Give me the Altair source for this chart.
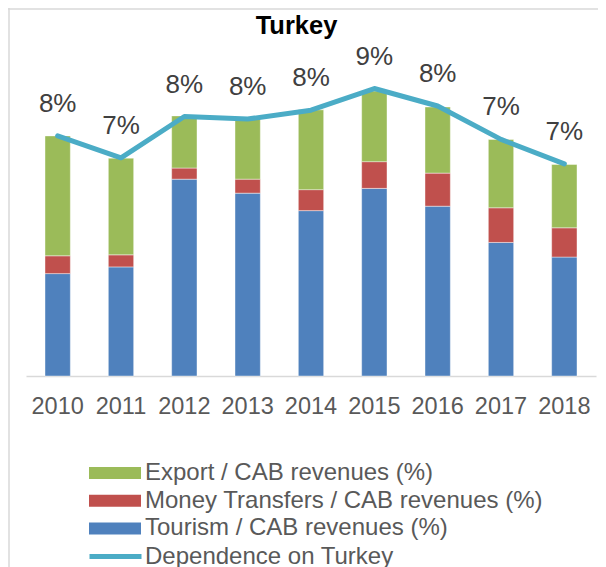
import altair as alt
import pandas as pd

years = ["2010", "2011", "2012", "2013", "2014", "2015", "2016", "2017", "2018"]
tourism = [3.22, 3.43, 6.19, 5.75, 5.20, 5.90, 5.34, 4.20, 3.74]
money_transfers = [0.56, 0.38, 0.35, 0.44, 0.66, 0.84, 1.04, 1.09, 0.92]
export = [3.77, 3.04, 1.64, 1.92, 2.51, 2.22, 2.08, 2.15, 1.99]
dependence = [7.55, 6.86, 8.16, 8.08, 8.36, 9.04, 8.49, 7.44, 6.67]

bar_series = [
    "Export / CAB revenues (%)",
    "Money Transfers / CAB revenues (%)",
    "Tourism / CAB revenues (%)",
]
bar_colors = ["#9BBB59", "#C0504D", "#4F81BD"]
line_series = "Dependence on Turkey"
line_color = "#4BACC6"

rows = []
for i, yr in enumerate(years):
    rows.append({"year": yr, "series": bar_series[2], "value": tourism[i], "order": 1})
    rows.append({"year": yr, "series": bar_series[1], "value": money_transfers[i], "order": 2})
    rows.append({"year": yr, "series": bar_series[0], "value": export[i], "order": 3})
bars_df = pd.DataFrame(rows)
line_df = pd.DataFrame({"year": years, "dep": dependence, "lseries": [line_series] * len(years)})

FONT = "Liberation Sans"
y_scale = alt.Scale(domain=[0, 10], nice=False, zero=True)
x_enc = alt.X(
    "year:N",
    scale=alt.Scale(paddingInner=0.6, paddingOuter=0.3),
    axis=alt.Axis(
        title=None, labelAngle=0, labelFont=FONT, labelFontSize=23.5,
        labelColor="#595959", labelPadding=18, ticks=False, tickSize=0,
        domainColor="#d9d9d9", domainWidth=1.3, grid=False,
    ),
)

rect_path = "M-4.333,-1H4.333V1H-4.333Z"

bar_legend = alt.Legend(
    title=None, orient="none", legendX=77, legendY=403,
    labelFont=FONT, labelFontSize=24, labelColor="#595959",
    symbolType=rect_path, symbolSize=144, symbolStrokeWidth=0, symbolOpacity=1,
    labelOffset=18, rowPadding=3.7, labelLimit=600,
)
line_legend = alt.Legend(
    title=None, orient="none", legendX=61, legendY=470,
    labelFont=FONT, labelFontSize=24, labelColor="#595959",
    symbolType="stroke", symbolSize=2704, symbolStrokeWidth=5, symbolOpacity=1,
    labelOffset=1, labelLimit=600,
)

bars = alt.Chart(bars_df).mark_bar(stroke="white", strokeWidth=0.6, strokeOpacity=0.7).encode(
    x=x_enc,
    y=alt.Y("value:Q", stack="zero", scale=y_scale, axis=None),
    color=alt.Color("series:N", scale=alt.Scale(domain=bar_series, range=bar_colors), legend=bar_legend),
    order=alt.Order("order:Q", sort="ascending"),
)

line = alt.Chart(line_df).mark_line(strokeWidth=5, strokeCap="round", strokeJoin="round").encode(
    x="year:N",
    y=alt.Y("dep:Q", scale=y_scale),
    stroke=alt.Stroke("lseries:N", scale=alt.Scale(domain=[line_series], range=[line_color]),
                      legend=line_legend),
)

labels = alt.Chart(line_df).transform_calculate(
    lab="format(datum.dep / 100, '.0%')"
).mark_text(font=FONT, fontSize=26, color="#404040", baseline="alphabetic", dy=-24).encode(
    x="year:N", y=alt.Y("dep:Q", scale=y_scale), text="lab:N"
)

title = alt.Chart(pd.DataFrame({"t": ["Turkey"]})).mark_text(
    font=FONT, fontSize=25.5, fontWeight="bold", color="#000000", baseline="alphabetic", align="center"
).encode(x=alt.value(270.5), y=alt.value(-24), text="t:N")

frame_left = alt.Chart(pd.DataFrame({"a": [0]})).mark_rule(color="#d9d9d9", strokeWidth=1.5).encode(
    x=alt.value(-17), y=alt.value(-50), y2=alt.value(517)
)
frame_top = alt.Chart(pd.DataFrame({"a": [0]})).mark_rule(color="#d9d9d9", strokeWidth=1.5).encode(
    x=alt.value(-18), x2=alt.value(572), y=alt.value(-49)
)

chart = alt.layer(frame_left, frame_top, bars, line, labels, title).resolve_legend(
    color="independent", stroke="independent"
).properties(
    width=570, height=318,
    autosize=alt.AutoSizeParams(type="none"),
    padding={"left": 18, "top": 50, "right": 2, "bottom": 199},
).configure_view(stroke=None)

chart.save("out.html", embed_options={"renderer": "svg", "actions": False})
